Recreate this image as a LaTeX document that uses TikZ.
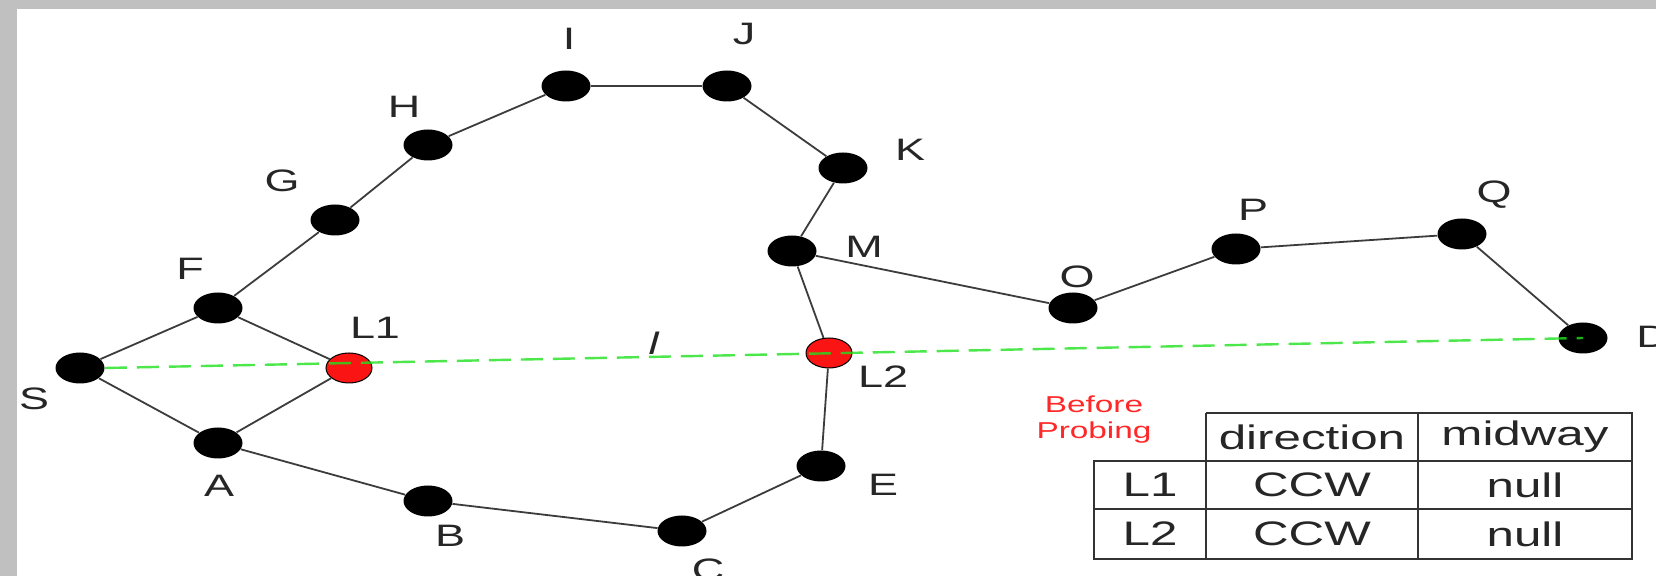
\documentclass[tikz,border=0pt]{standalone}
\usepackage{fontspec}
\setmainfont{Liberation Sans}[FakeStretch=1.45]
\usetikzlibrary{shapes.geometric}
\definecolor{bggray}{RGB}{192,192,192}
\definecolor{edgegray}{RGB}{60,60,60}
\definecolor{probegreen}{RGB}{30,225,30}
\definecolor{probered}{RGB}{250,20,20}
\definecolor{notered}{RGB}{255,40,40}
\begin{document}
\begin{tikzpicture}[x=0.5pt,y=-0.5pt,
  dot/.style={ellipse,fill=black,minimum width=24.5pt,minimum height=15.5pt,inner sep=0pt},
  reddot/.style={ellipse,fill=probered,draw=black,line width=0.5pt,minimum width=23pt,minimum height=15pt,inner sep=0pt},
  lbl/.style={font=\fontsize{15.5}{18}\selectfont,inner sep=0pt,text=black!85},
  cell/.style={font=\fontsize{17}{20}\selectfont,inner sep=0pt,text=black!85},
  edge/.style={draw=edgegray,line width=0.9pt},
  probe/.style={draw=probegreen,line width=1.2pt,dash pattern=on 11pt off 5pt,opacity=0.8},
  grid/.style={draw=black!80,line width=1pt},
  note/.style={font=\fontsize{11.5}{14}\selectfont,text=notered,align=center,inner sep=0pt}]
\useasboundingbox (0,0) rectangle (1656,576);
\clip (0,0) rectangle (1656,576);
\fill[bggray] (0,0) rectangle (1656,576);
\fill[white] (17,9) rectangle (1660,580);

% nodes
\node[dot] (S) at (80,368) {};
\node[dot] (F) at (218,308) {};
\node[dot] (G) at (335,220) {};
\node[dot] (H) at (428,145) {};
\node[dot] (I) at (566,86) {};
\node[dot] (J) at (727,86) {};
\node[dot] (K) at (843,168) {};
\node[dot] (M) at (792,251) {};
\node[dot] (O) at (1073,308) {};
\node[dot] (P) at (1236,249) {};
\node[dot] (Q) at (1462,234) {};
\node[dot] (D) at (1583,338) {};
\node[dot] (E) at (821,466) {};
\node[dot] (C) at (682,531) {};
\node[dot] (B) at (428,501) {};
\node[dot] (A) at (218,443) {};
\node[reddot] (L1) at (349,368) {};
\node[reddot] (L2) at (829,353) {};

% edges
\path[edge] (S) -- (F);
\path[edge] (S) -- (A);
\path[edge] (F) -- (L1);
\path[edge] (A) -- (L1);
\path[edge] (F) -- (G);
\path[edge] (G) -- (H);
\path[edge] (H) -- (I);
\path[edge] (I) -- (J);
\path[edge] (J) -- (K);
\path[edge] (K) -- (M);
\path[edge] (M) -- (L2);
\path[edge] (M) -- (O);
\path[edge] (O) -- (P);
\path[edge] (P) -- (Q);
\path[edge] (Q) -- (D);
\path[edge] (L2) -- (E);
\path[edge] (E) -- (C);
\path[edge] (C) -- (B);
\path[edge] (B) -- (A);

% probe line
\path[probe] (S.east) -- (D.center);

% labels
\node[lbl] (tS) at (34,399) {S};
\node[lbl] (tF) at (190,269) {F};
\node[lbl] (tG) at (282,181) {G};
\node[lbl] (tH) at (404,107) {H};
\node[lbl] (tI) at (569,39) {I};
\node[lbl] (tJ) at (744,34) {J};
\node[lbl] (tK) at (910,150) {K};
\node[lbl] (tM) at (864,247) {M};
\node[lbl] (tO) at (1077,277) {O};
\node[lbl] (tP) at (1253,210) {P};
\node[lbl] (tQ) at (1494,195) {Q};
\node[lbl,anchor=west] (tD) at (1636,337) {D};
\node[lbl] (tL1) at (375,328) {L1};
\node[lbl] (tL2) at (883,377) {L2};
\node[lbl] (tl) at (654,343) {\textit{l}};
\node[lbl] (tA) at (219,486) {A};
\node[lbl] (tE) at (883,485) {E};
\node[lbl] (tB) at (450,536) {B};
\node[lbl,anchor=north] (tC) at (708,558) {C};

% table
\path[grid] (1206,413) -- (1632,413) -- (1632,559) -- (1094,559) -- (1094,461) -- (1632,461);
\path[grid] (1206,413) -- (1206,559);
\path[grid] (1418,413) -- (1418,559);
\path[grid] (1094,509) -- (1632,509);
\node[cell] (hdir) at (1312,437) {direction};
\node[cell] (hmid) at (1525,437) {midway};
\node[cell] (r1) at (1150,485) {L1};
\node[cell] (r1d) at (1312,485) {CCW};
\node[cell] (r1m) at (1525,485) {null};
\node[cell] (r2) at (1150,534) {L2};
\node[cell] (r2d) at (1312,534) {CCW};
\node[cell] (r2m) at (1525,534) {null};
\node[note] (before) at (1094,420) {Before\\[-1pt]Probing};
\end{tikzpicture}
\end{document}
